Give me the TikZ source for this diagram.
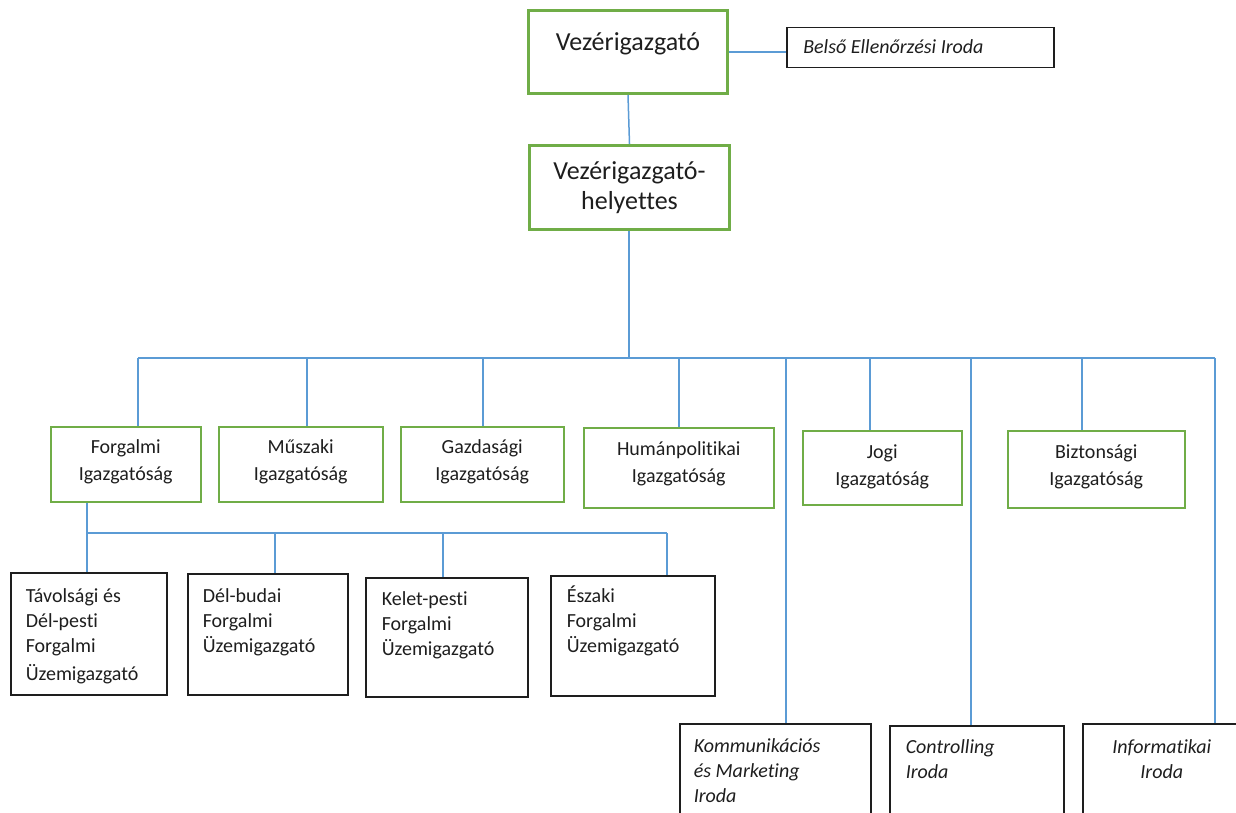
\documentclass[tikz,border=0pt]{standalone}
\usepackage{fontspec}
\setmainfont{Carlito}[Ligatures=CommonOff]
\definecolor{ogreen}{HTML}{70AD47}
\definecolor{oblue}{HTML}{5B9BD5}
\definecolor{dk}{HTML}{1E1E1E}
\newcommand\orgbox[7]{\node[#1, inner sep=0pt, anchor=north west] (#2) at (#3,#4) {\parbox[c][\dimexpr #6pt-#4pt\relax][t]{\dimexpr #5pt-#3pt\relax}{#7}};}
\newcommand\gtext[3]{\vspace*{#1}\centering\fontsize{20}{27}\selectfont\strut #2\\#3}
\newcommand\ktext[3]{\vspace*{#1}\raggedright\leftskip=#2\fontsize{20}{25}\selectfont\strut #3}
\tikzset{
  topbox/.style={draw=ogreen, line width=3pt, text=dk},
  gbox/.style={draw=ogreen, line width=1.5pt, text=dk},
  kbox/.style={draw=dk, line width=1.5pt, text=dk},
  conn/.style={draw=oblue, line width=1.5pt},
}
\begin{document}
\begin{tikzpicture}[x=1pt, y=-1pt]
\useasboundingbox (0,0) rectangle (1236,813);
\clip (0,0) rectangle (1236,813);
% top
\orgbox{topbox}{vez}{527}{9}{726}{92}{\vspace*{19pt}\centering\fontsize{26}{30}\selectfont\strut Vezérigazgató}
\orgbox{topbox}{hely}{528}{144}{728}{228}{\vspace*{13pt}\centering\fontsize{26}{30}\selectfont\strut Vezérigazgató-\\helyettes}
\orgbox{kbox}{belso}{786}{27}{1053}{67}{\ktext{8.2pt}{16.5pt}{\itshape Belső Ellenőrzési Iroda}}
% directorates
\orgbox{gbox}{forg}{50}{426}{200}{501}{\gtext{7.8pt}{Forgalmi}{Igazgatóság}}
\orgbox{gbox}{musz}{218}{426}{382}{501}{\gtext{7.8pt}{Műszaki}{Igazgatóság}}
\orgbox{gbox}{gazd}{400}{426}{563}{501}{\gtext{7.8pt}{Gazdasági}{Igazgatóság}}
\orgbox{gbox}{human}{583}{427}{773}{507}{\gtext{8.8pt}{Humánpolitikai}{Igazgatóság}}
\orgbox{gbox}{jogi}{802}{430}{961}{504}{\gtext{8.8pt}{Jogi}{Igazgatóság}}
\orgbox{gbox}{bizt}{1007}{430}{1184}{507}{\gtext{8.8pt}{Biztonsági}{Igazgatóság}}
% operating directors
\orgbox{kbox}{tav}{10}{572}{166}{694}{\ktext{12.2pt}{15pt}{Távolsági és\\Dél-pesti\\Forgalmi\\[3pt]Üzemigazgató}}
\orgbox{kbox}{delb}{187}{573}{347}{694}{\ktext{11.2pt}{15pt}{Dél-budai\\Forgalmi\\Üzemigazgató}}
\orgbox{kbox}{kelet}{365}{577}{527}{696}{\ktext{10.2pt}{16pt}{Kelet-pesti\\Forgalmi\\Üzemigazgató}}
\orgbox{kbox}{eszak}{550}{575}{714}{695}{\ktext{9.2pt}{16pt}{Északi\\Forgalmi\\Üzemigazgató}}
% offices
\orgbox{kbox}{komm}{679}{723}{870}{830}{\ktext{11.2pt}{14pt}{\itshape Kommunikációs\\és Marketing\\Iroda}}
\orgbox{kbox}{contr}{889}{725}{1063}{830}{\ktext{10.2pt}{16pt}{\itshape Controlling\\Iroda}}
\orgbox{kbox}{info}{1082}{723}{1240}{830}{\vspace*{12.2pt}\centering\fontsize{20}{25}\selectfont\itshape\strut Informatikai\\Iroda}
% bus coordinates
\coordinate (p0) at (629,358);
\coordinate (p1) at (138,358);
\coordinate (p2) at (307,358);
\coordinate (p3) at (483,358);
\coordinate (p4) at (679,358);
\coordinate (p5) at (786,358);
\coordinate (p6) at (870,358);
\coordinate (p7) at (971,358);
\coordinate (p8) at (1082,358);
\coordinate (p9) at (1215,358);
\coordinate (q1) at (87,533);
\coordinate (q2) at (275,533);
\coordinate (q3) at (443,533);
\coordinate (q4) at (667,533);
% connectors
\draw[conn] (vez.east) -- (vez.east -| belso.west);
\draw[conn] (vez.south) -- (hely.north);
\draw[conn] (hely.south -| p0) -- (p0);
\draw[conn] (p1) -- (p9);
\draw[conn] (p1) -- (p1 |- forg.north);
\draw[conn] (p2) -- (p2 |- musz.north);
\draw[conn] (p3) -- (p3 |- gazd.north);
\draw[conn] (p4) -- (p4 |- human.north);
\draw[conn] (p5) -- (p5 |- komm.north);
\draw[conn] (p6) -- (p6 |- jogi.north);
\draw[conn] (p7) -- (p7 |- contr.north);
\draw[conn] (p8) -- (p8 |- bizt.north);
\draw[conn] (p9) -- (p9 |- info.north);
\draw[conn] (forg.south -| q1) -- (q1);
\draw[conn] (q1) -- (q4);
\draw[conn] (q1) -- (q1 |- tav.north);
\draw[conn] (q2) -- (q2 |- delb.north);
\draw[conn] (q3) -- (q3 |- kelet.north);
\draw[conn] (q4) -- (q4 |- eszak.north);
\end{tikzpicture}
\end{document}
